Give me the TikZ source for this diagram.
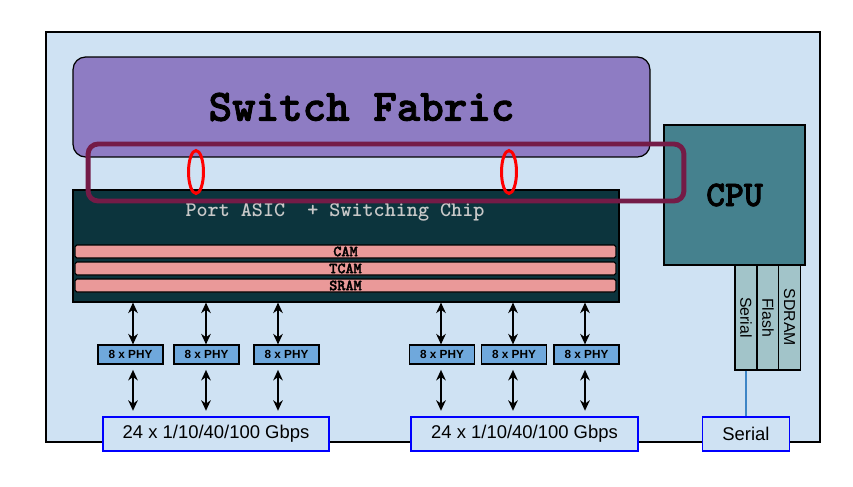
\documentclass[tikz,border=0pt]{standalone}
\usepackage{fontspec}
\setmainfont{Liberation Sans}
\newfontfamily\slabmono{lmmonolt10-bold.otf}[FakeBold=2]
\newfontfamily\slabmonolt{lmmonolt10-bold.otf}
\usetikzlibrary{shapes, arrows.meta, positioning}
\definecolor{boardblue}{HTML}{CFE2F3}
\definecolor{fabricpurple}{HTML}{8E7CC3}
\definecolor{asicteal}{HTML}{0C343D}
\definecolor{asicgray}{HTML}{C8C8C8}
\definecolor{mempink}{HTML}{EA9999}
\definecolor{cputeal}{HTML}{45818E}
\definecolor{barblue}{HTML}{A2C4C9}
\definecolor{phyblue}{HTML}{6FA8DC}
\definecolor{portblue}{HTML}{0000FF}
\definecolor{ringmaroon}{HTML}{741B47}
\definecolor{serblue}{HTML}{3D85C6}
\tikzstyle{board} = [rectangle, draw, line width=0.9pt, fill=boardblue, minimum width=15.48cm, minimum height=8.2cm]
\tikzstyle{fabric} = [rectangle, draw, rounded corners=0.25cm, line width=0.7pt, fill=fabricpurple, minimum width=11.54cm, minimum height=2cm, font=\slabmono\fontsize{25.5}{27}\selectfont]
\tikzstyle{asic} = [rectangle, draw, line width=0.7pt, fill=asicteal, minimum width=10.92cm, minimum height=2.24cm]
\tikzstyle{asiclabel} = [text=asicgray, font=\slabmonolt\fontsize{12}{14}\selectfont]
\tikzstyle{membar} = [rectangle, draw, rounded corners=1pt, line width=0.6pt, fill=mempink, minimum width=10.82cm, minimum height=0.26cm, inner sep=0pt, font=\slabmono\fontsize{8.8}{9}\selectfont]
\tikzstyle{cpu} = [rectangle, draw, line width=0.7pt, fill=cputeal, minimum width=2.82cm, minimum height=2.8cm, font=\slabmono\fontsize{20.5}{22}\selectfont]
\tikzstyle{cpubar} = [rectangle, draw, line width=0.7pt, fill=barblue, rotate=-90, minimum width=2.1cm, minimum height=0.44cm, inner sep=0pt, font=\fontsize{9}{10}\selectfont]
\tikzstyle{phy} = [rectangle, draw, line width=0.7pt, fill=phyblue, minimum width=1.3cm, minimum height=0.38cm, inner sep=0pt, font=\bfseries\fontsize{6.7}{7}\selectfont]
\tikzstyle{port} = [rectangle, draw=portblue, line width=1.1pt, fill=boardblue, minimum height=0.68cm, inner sep=0pt, font=\fontsize{10.5}{12}\selectfont]
\tikzstyle{ring} = [rectangle, draw=ringmaroon, line width=2.8pt, rounded corners=0.2cm, minimum width=11.92cm, minimum height=1.14cm]
\tikzstyle{hit} = [ellipse, draw=red, line width=1.7pt, minimum width=0.3cm, minimum height=0.86cm, inner sep=0pt]
\tikzstyle{bidir} = [<->, >={Stealth[length=6pt,width=5.5pt]}, line width=0.85pt]
\tikzstyle{serline} = [draw=serblue, line width=0.8pt]

\begin{document}
\begin{tikzpicture}[x=0.02cm, y=-0.02cm]
  \useasboundingbox (0,0) rectangle (853,487);

  % board
  \node[board] (board) at (433,237) {};

  % fabric and asic
  \node[fabric] (fabric) at (361.5,107) {Switch Fabric};
  \node[asic] (asic) at (346,246) {};
  \node[asiclabel] (asiclbl) at (335,212) {Port ASIC\ \ + Switching Chip};
  \node[membar] (cam) at (345.5,251.5) {CAM};
  \node[membar] (tcam) at (345.5,268.5) {TCAM};
  \node[membar] (sram) at (345.5,285.5) {SRAM};

  % cpu
  \node[cpu] (cpu) at (734.5,195) {CPU};
  \node[cpubar] (serialbar) at (746,317.5) {Serial};
  \node[cpubar] (flashbar) at (768,317.5) {Flash};
  \node[cpubar] (sdrambar) at (789.5,317.5) {SDRAM};

  % path highlight
  \node[ring] (ring) at (386,172.5) {};
  \node[hit] (hit1) at (196,172) {};
  \node[hit] (hit2) at (509,172) {};

  % phys
  \node[phy] (phy1) at (130.5,354.5) {8 x PHY};
  \node[phy] (phy2) at (206.5,354.5) {8 x PHY};
  \node[phy] (phy3) at (286.5,354.5) {8 x PHY};
  \node[phy] (phy4) at (442,354.5) {8 x PHY};
  \node[phy] (phy5) at (514,354.5) {8 x PHY};
  \node[phy] (phy6) at (586.5,354.5) {8 x PHY};

  % ports
  \node[port, minimum width=4.52cm] (ports1) at (216,434) {24 x 1/10/40/100 Gbps};
  \node[port, minimum width=4.54cm] (ports2) at (524.5,434) {24 x 1/10/40/100 Gbps};
  \node[port, minimum width=1.74cm] (serialport) at (746,434) {Serial};

  % lanes
  \coordinate (c1) at (133,0);
  \coordinate (c2) at (206,0);
  \coordinate (c3) at (278,0);
  \coordinate (c4) at (441,0);
  \coordinate (c5) at (513,0);
  \coordinate (c6) at (585,0);

  % asic to phy
  \draw[bidir] (asic.south -| c1) -- (phy1.north -| c1);
  \draw[bidir] (asic.south -| c2) -- (phy2.north -| c2);
  \draw[bidir] (asic.south -| c3) -- (phy3.north -| c3);
  \draw[bidir] (asic.south -| c4) -- (phy4.north -| c4);
  \draw[bidir] (asic.south -| c5) -- (phy5.north -| c5);
  \draw[bidir] (asic.south -| c6) -- (phy6.north -| c6);

  % phy to ports
  \draw[bidir, shorten <=3pt, shorten >=3pt] (phy1.south -| c1) -- (ports1.north -| c1);
  \draw[bidir, shorten <=3pt, shorten >=3pt] (phy2.south -| c2) -- (ports1.north -| c2);
  \draw[bidir, shorten <=3pt, shorten >=3pt] (phy3.south -| c3) -- (ports1.north -| c3);
  \draw[bidir, shorten <=3pt, shorten >=3pt] (phy4.south -| c4) -- (ports2.north -| c4);
  \draw[bidir, shorten <=3pt, shorten >=3pt] (phy5.south -| c5) -- (ports2.north -| c5);
  \draw[bidir, shorten <=3pt, shorten >=3pt] (phy6.south -| c6) -- (ports2.north -| c6);

  % console
  \draw[serline] (serialbar.east) -- (serialport.north);
\end{tikzpicture}
\end{document}
